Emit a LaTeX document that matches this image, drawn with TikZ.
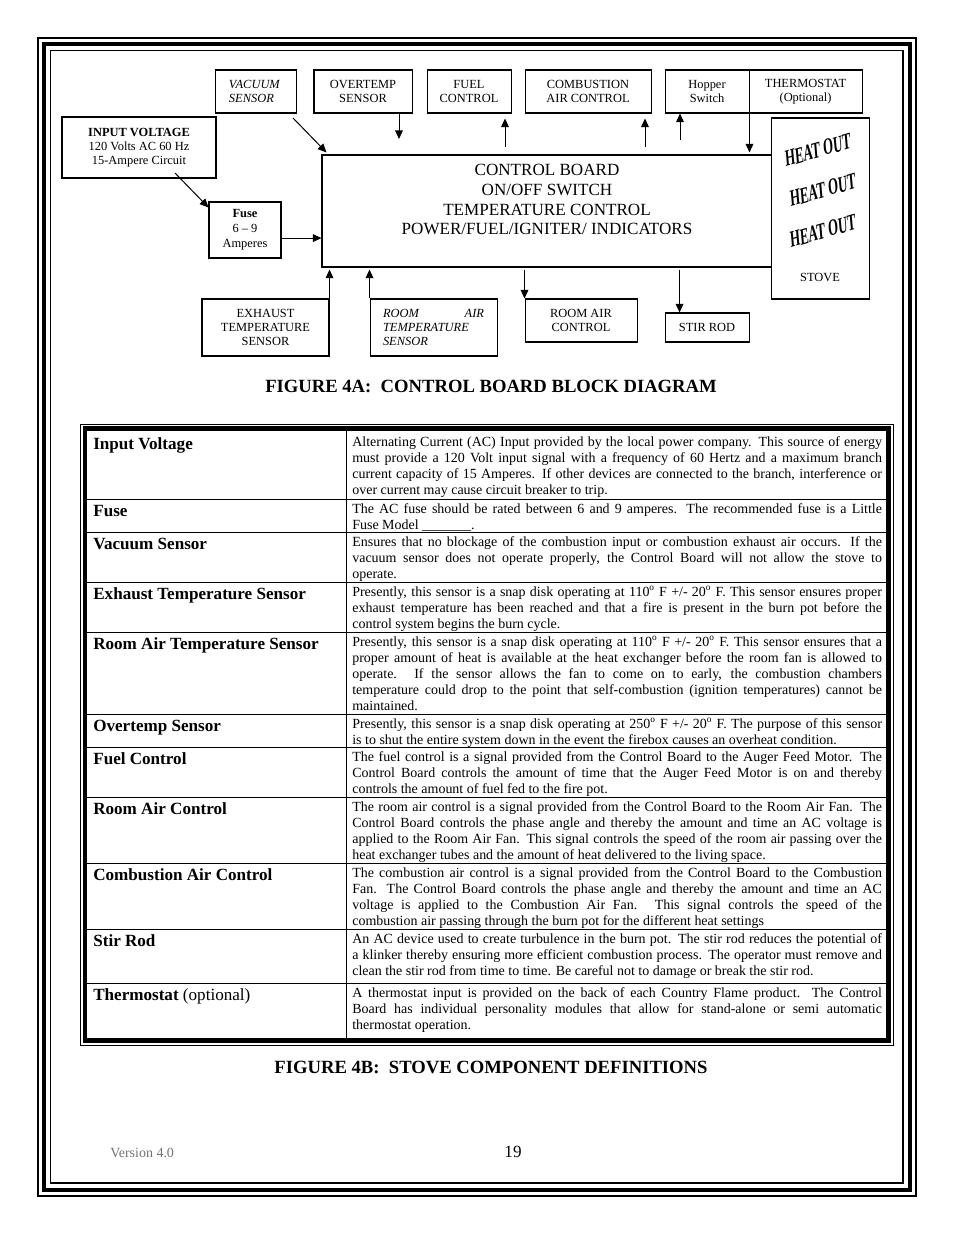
\documentclass[tikz,border=0pt]{standalone}
\usepackage{fontspec}
\setmainfont{Liberation Serif}
\usepackage{tikz}
\usetikzlibrary{positioning,arrows.meta}
\newcommand{\pu}{0.6438pt}

\begin{document}
\begin{tikzpicture}[x=\pu, y=-\pu,
  blk/.style    ={draw, line width=0.65pt, inner sep=0pt, align=center, font=\fontsize{8}{9}\selectfont},
  sig/.style    ={line width=0.65pt, -{Triangle[length=5.6pt,width=5pt]}},
  cbtext/.style ={inner sep=0pt, align=center, font=\fontsize{11}{12.7}\selectfont},
  heat/.style   ={inner sep=0pt, font=\fontsize{15}{15}\selectfont\bfseries, xscale=0.55, rotate=9},
  hdtxt/.style  ={anchor=base west, inner sep=0pt, font=\fontsize{11}{13}\selectfont\bfseries},
  bodytxt/.style={anchor=base west, inner sep=0pt, text width=341pt, align=justify, font=\fontsize{9}{10.35}\selectfont},
  figcap/.style ={anchor=base, inner sep=0pt, font=\fontsize{12}{14}\selectfont\bfseries},
  rowrule/.style={line width=0.65pt},
]
\useasboundingbox (0,0) rectangle (954,1235);
% page frame
\draw[line width=1.3pt]  (37.8,37.8) rectangle (915.5,1195.5);
\draw[line width=2.6pt]  (44.3,44.3) rectangle (910.2,1190.2);
\draw[line width=0.85pt] (50.7,50.7) rectangle (903,1183);

% top row of blocks
\node[blk, minimum width=80*\pu, minimum height=43*\pu, text width=34.8pt, inner xsep=13*\pu, align=left, font=\fontsize{8}{9}\selectfont\itshape] (vac) at (256,91.5) {VACUUM\\SENSOR};
\node[blk, minimum width=98*\pu,  minimum height=43*\pu] (ovt)  at (363,91.5)   {OVERTEMP\\SENSOR};
\node[blk, minimum width=84*\pu,  minimum height=43*\pu] (fuel) at (469,91.5)   {FUEL\\CONTROL};
\node[blk, minimum width=126*\pu, minimum height=43*\pu] (comb) at (588,91.5)   {COMBUSTION\\AIR CONTROL};
\node[blk, minimum width=84*\pu,  minimum height=43*\pu] (hop)  at (707,91.5)   {Hopper\\Switch};
\node[blk, minimum width=113*\pu, minimum height=43*\pu] (thermo) at (805.5,91.5) {THERMOSTAT\\(Optional)};
% supply side
\node[blk, minimum width=154*\pu, minimum height=61*\pu] (inp)  at (139,147.5)  {\textbf{INPUT VOLTAGE}\\120 Volts AC 60 Hz\\15-Ampere Circuit};
\node[blk, minimum width=72*\pu,  minimum height=56*\pu, font=\fontsize{8}{9.6}\selectfont] (fuse) at (245,230) {\textbf{Fuse}\\6 – 9\\Amperes};
% control board and stove
\node[blk, minimum width=450*\pu, minimum height=112*\pu] (board) at (547,211) {};
\node[cbtext, below=6.2pt of board.north] (boardtxt) {CONTROL BOARD\\ON/OFF SWITCH\\TEMPERATURE CONTROL\\POWER/FUEL/IGNITER/ INDICATORS};
\node[blk, fill=white, minimum width=98*\pu, minimum height=181*\pu] (stove) at (820,208.5) {};
\node[inner sep=0pt, font=\fontsize{8}{9}\selectfont, above=11pt of stove.south] (stovetxt) {STOVE};
\foreach \hy/\hx in {150/818, 190/823, 231/823}
  \node[heat] (heat\hy) at (\hx,\hy) {HEAT OUT};
% bottom row of blocks
\node[blk, minimum width=127*\pu, minimum height=57*\pu] (exh) at (265.5,327.5) {EXHAUST\\TEMPERATURE\\SENSOR};
\node[blk, minimum width=127*\pu, minimum height=57*\pu, text width=65pt, inner xsep=13*\pu, align=justify, font=\fontsize{8}{9}\selectfont\itshape] (rat) at (433.5,327.5) {ROOM AIR\linebreak TEMPERATURE\newline SENSOR};
\node[blk, minimum width=112*\pu, minimum height=43*\pu] (rac)  at (581,320.5) {ROOM AIR\\CONTROL};
\node[blk, minimum width=84*\pu,  minimum height=29*\pu] (stir) at (707,327.5) {STIR ROD};

% signal arrows, top
\coordinate (vacA)  at (293,118);
\coordinate (ovtB)  at (399,139);
\coordinate (fuelB) at (505,147);
\coordinate (combB) at (645,147);
\coordinate (hopB)  at (680,140);
\draw[sig] (vacA) -- ([shift={(5,-2)}]board.north west);
\draw[sig] (ovt.south -| ovtB) -- (ovtB);
\draw[sig, shorten >=3.2pt] (fuelB) -- (fuel.south -| fuelB);
\draw[sig, shorten >=3.2pt] (combB) -- (comb.south -| combB);
\draw[sig] (hopB) -- (hop.south -| hopB);
\draw[sig, shorten >=1.3pt] (hop.south east) -- (hop.south east |- board.north);
% supply path
\coordinate (inpA)  at (175,173);
\coordinate (fuseR) at ([yshift=-5.2pt]fuse.east);
\draw[sig] (inpA) -- ([shift={(0,6)}]fuse.north west);
\draw[sig] (fuseR) -- (fuseR -| board.west);
% signal arrows, bottom
\coordinate (stirA) at ([xshift=9.7pt]stir.north west);
\draw[sig, shorten >=1.3pt] (exh.north east) -- (exh.north east |- board.south);
\draw[sig, shorten >=1.3pt] (rat.north west) -- (rat.north west |- board.south);
\draw[sig, shorten <=1.3pt] (rac.north west |- board.south) -- (rac.north west);
\draw[sig, shorten <=1.3pt] (stirA |- board.south) -- (stirA);

\node[figcap] (cap4a) at (491,392) {FIGURE 4A:\ \ CONTROL BOARD BLOCK DIAGRAM};

% definitions table
\draw[line width=0.65pt] (80.5,424.5) rectangle (893,1045);
\draw[line width=2.6pt]  (85,428.5) rectangle (888.5,1040.5);
\foreach \ry in {499,532,582,632,714,747,797,863,929,983}
  \draw[rowrule] (87,\ry) -- (887,\ry);
\draw[rowrule] (346,430) -- (346,1039);
% headings: row top / name
\foreach \ty/\hd in {432/Input Voltage, 499/Fuse, 532/Vacuum Sensor, 582/Exhaust Temperature Sensor,
    632/Room Air Temperature Sensor, 714/Overtemp Sensor, 747/Fuel Control, 797/Room Air Control,
    863/Combustion Air Control, 929/Stir Rod, 983/Thermostat \mdseries(optional)}
  \node[hdtxt] (hd\ty) at (93,\ty+17) {\hd};
% descriptions
\node[bodytxt] (dInput) at (352,446) {Alternating Current (AC) Input provided by the local power company.  This source of energy\linebreak must provide a 120 Volt input signal with a frequency of 60 Hertz and a maximum branch\linebreak current capacity of 15 Amperes.  If other devices are connected to the branch, interference or\linebreak over current may cause circuit breaker to trip.};
\node[bodytxt] (dFuse) at (352,513) {The AC fuse should be rated between 6 and 9 amperes.  The recommended fuse is a Little\linebreak Fuse Model \_\_\_\_\_\_\_.};
\node[bodytxt] (dVac) at (352,546) {Ensures that no blockage of the combustion input or combustion exhaust air occurs.  If the\linebreak vacuum sensor does not operate properly, the Control Board will not allow the stove to\linebreak operate.};
\node[bodytxt] (dExh) at (352,596) {Presently, this sensor is a snap disk operating at 110\textsuperscript{o}~F +/- 20\textsuperscript{o}~F.  This sensor ensures proper\linebreak exhaust temperature has been reached and that a fire is present in the burn pot before the\linebreak control system begins the burn cycle.};
\node[bodytxt] (dRat) at (352,646) {Presently, this sensor is a snap disk operating at 110\textsuperscript{o}~F +/- 20\textsuperscript{o}~F.  This sensor ensures that a\linebreak proper amount of heat is available at the heat exchanger before the room fan is allowed to\linebreak operate.  If the sensor allows the fan to come on to early, the combustion chambers\linebreak temperature could drop to the point that self-combustion (ignition temperatures) cannot be\linebreak maintained.};
\node[bodytxt] (dOvt) at (352,728) {Presently, this sensor is a snap disk operating at 250\textsuperscript{o}~F +/- 20\textsuperscript{o}~F.   The purpose of this sensor\linebreak is to shut the entire system down in the event the firebox causes an overheat condition.};
\node[bodytxt] (dFuel) at (352,761) {The fuel control is a signal provided from the Control Board to the Auger Feed Motor.  The\linebreak Control Board controls the amount of time that the Auger Feed Motor is on and thereby\linebreak controls the amount of fuel fed to the fire pot.};
\node[bodytxt] (dRac) at (352,811) {The room air control is a signal provided from the Control Board to the Room Air Fan.  The\linebreak Control Board controls the phase angle and thereby the amount and time an AC voltage is\linebreak applied to the Room Air Fan.  This signal controls the speed of the room air passing over the\linebreak heat exchanger tubes and the amount of heat delivered to the living space.};
\node[bodytxt] (dComb) at (352,877) {The combustion air control is a signal provided from the Control Board to the Combustion\linebreak Fan.  The Control Board controls the phase angle and thereby the amount and time an AC\linebreak voltage is applied to the Combustion Air Fan.   This signal controls the speed of the\linebreak combustion air passing through the burn pot for the different heat settings};
\node[bodytxt] (dStir) at (352,943) {An AC device used to create turbulence in the burn pot.  The stir rod reduces the potential of\linebreak a klinker thereby ensuring more efficient combustion process.  The operator must remove and\linebreak clean the stir rod from time to time.  Be careful not to damage or break the stir rod.};
\node[bodytxt] (dThermo) at (352,997) {A thermostat input is provided on the back of each Country Flame product.  The Control\linebreak Board has individual personality modules that allow for stand-alone or semi automatic\linebreak thermostat operation.};

\node[figcap] (cap4b) at (491,1073) {FIGURE 4B:\ \ STOVE COMPONENT DEFINITIONS};
% footer
\node[anchor=base west, inner sep=0pt, font=\fontsize{9}{10}\selectfont, text=black!55] (ver) at (110,1157) {Version 4.0};
\node[anchor=base, inner sep=0pt, font=\fontsize{11}{13}\selectfont] (pgno) at (513,1157) {19};
\end{tikzpicture}
\end{document}
